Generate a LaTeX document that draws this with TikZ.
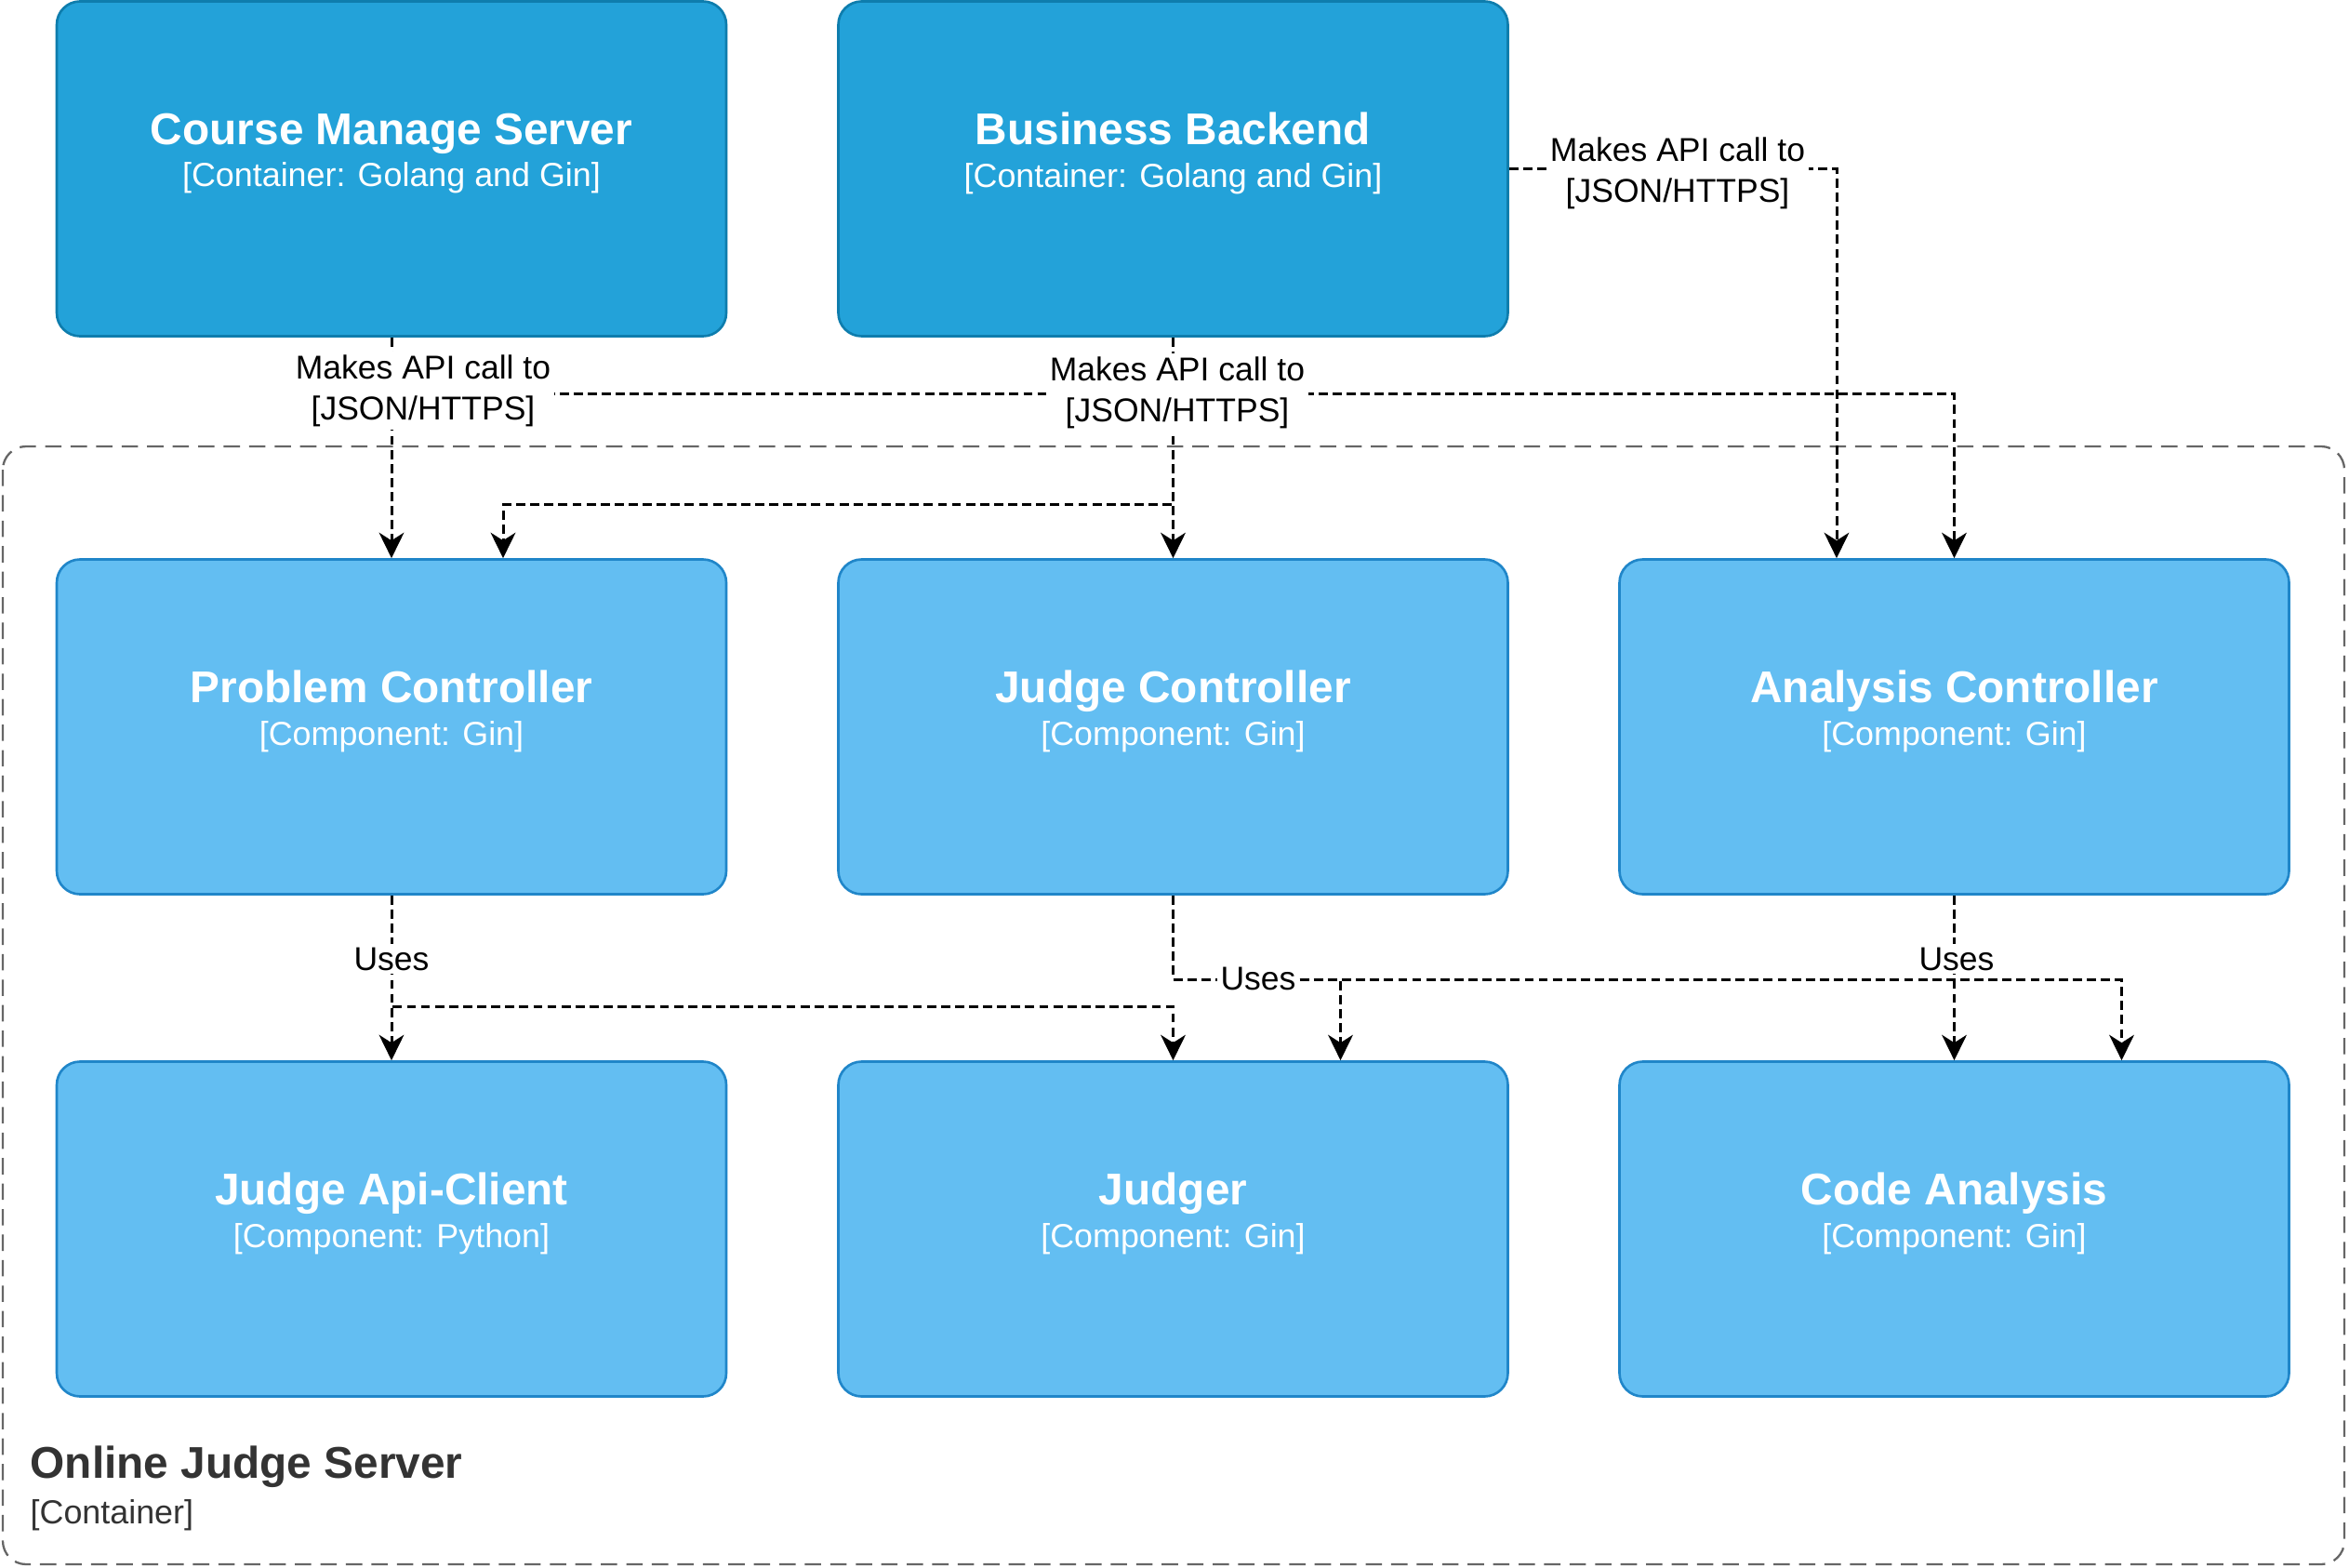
\documentclass[tikz,border=0pt]{standalone}
\usepackage{fontspec}
\setmainfont{Liberation Sans}
\usetikzlibrary{arrows.meta}

\definecolor{contfill}{HTML}{23A2D9}
\definecolor{contline}{HTML}{0E7DAD}
\definecolor{compfill}{HTML}{63BEF2}
\definecolor{compline}{HTML}{2086C9}
\definecolor{bndline}{HTML}{666666}
\definecolor{bndtext}{HTML}{333333}

\newcommand{\boxtitle}[1]{{\fontsize{13.6pt}{13pt}\selectfont\bfseries #1}}

\begin{document}
\begin{tikzpicture}[>={Stealth[length=7.8pt,width=7.6pt,inset=2.4pt]},
    box/.style={rectangle, rounded corners=0.25cm, minimum width=7.2cm, minimum height=3.6cm, line width=0.75pt, inner sep=0pt},
    cont/.style={box, fill=contfill, draw=contline},
    comp/.style={box, fill=compfill, draw=compline},
    txt/.style={text=white, align=center, inner sep=0pt, font=\fontsize{10.2pt}{13pt}\selectfont},
    flow/.style={->, line width=0.85pt, dash pattern=on 2.8pt off 1.5pt},
    elabel/.style={fill=white, inner sep=1pt, align=center, font=\fontsize{10.1pt}{12.5pt}\selectfont}]
    \useasboundingbox (0,0) rectangle (25.26,-16.86);

    % boundary
    \draw[bndline, line width=0.65pt, dash pattern=on 5pt off 2.8pt, rounded corners=0.25cm] (0.03,-4.80) rectangle (25.21,-16.82);
    \node[anchor=west, inner sep=0pt, text=bndtext, font=\fontsize{13.6pt}{14pt}\selectfont\bfseries] (ojs) at (0.32,-15.77) {Online Judge Server};
    \node[anchor=west, inner sep=0pt, text=bndtext, font=\fontsize{10.2pt}{12pt}\selectfont] (ojs-t) at (0.32,-16.29) {[Container]};

    % containers
    \node[cont] (cms) at (4.21,-1.815) {};
    \node[cont] (bb) at (12.615,-1.815) {};
    \node[txt] (cms-l) at ([yshift=0.165cm]cms.center) {\boxtitle{Course Manage Server}\\{[Container: Golang and Gin]}};
    \node[txt] (bb-l) at ([yshift=0.165cm]bb.center) {\boxtitle{Business Backend}\\{[Container: Golang and Gin]}};

    % components
    \node[comp] (pc) at (4.21,-7.815) {};
    \node[comp] (jc) at (12.615,-7.815) {};
    \node[comp] (ac) at (21.015,-7.815) {};
    \node[comp] (jac) at (4.21,-13.215) {};
    \node[comp] (jd) at (12.615,-13.215) {};
    \node[comp] (ca) at (21.015,-13.215) {};
    \node[txt] (pc-l) at ([yshift=0.165cm]pc.center) {\boxtitle{Problem Controller}\\{[Component: Gin]}};
    \node[txt] (jc-l) at ([yshift=0.165cm]jc.center) {\boxtitle{Judge Controller}\\{[Component: Gin]}};
    \node[txt] (ac-l) at ([yshift=0.165cm]ac.center) {\boxtitle{Analysis Controller}\\{[Component: Gin]}};
    \node[txt] (jac-l) at ([yshift=0.165cm]jac.center) {\boxtitle{Judge Api-Client}\\{[Component: Python]}};
    \node[txt] (jd-l) at ([yshift=0.165cm]jd.center) {\boxtitle{Judger}\\{[Component: Gin]}};
    \node[txt] (ca-l) at ([yshift=0.165cm]ca.center) {\boxtitle{Code Analysis}\\{[Component: Gin]}};

    % API calls
    \draw[flow] (cms) -- (pc);
    \draw[flow] (cms.south) -- ++(0,-0.61) -| (ac.north);
    \draw[flow] (bb) -- (jc);
    \draw[flow] (bb.south) -- ++(0,-1.80) -| ([xshift=1.2cm]pc.north);
    \draw[flow] (bb.east) -| ([xshift=-1.265cm]ac.north);

    % uses
    \draw[flow] (pc) -- (jac);
    \draw[flow] (pc.south) -- ++(0,-1.195) -| (jd.north);
    \draw[flow] (jc.south) -- ++(0,-0.905) -| ([xshift=1.8cm]jd.north);
    \draw[flow] (jc.south) -- ++(0,-0.905) -| ([xshift=1.8cm]ca.north);
    \draw[flow] (ac) -- (ca);

    % labels
    \node[elabel] (l-cms) at (4.55,-4.20) {Makes API call to\\{[JSON/HTTPS]}};
    \node[elabel] (l-bb) at (12.66,-4.22) {Makes API call to\\{[JSON/HTTPS]}};
    \node[elabel] (l-bbac) at (18.04,-1.86) {Makes API call to\\{[JSON/HTTPS]}};
    \node[elabel] (u-pc) at (4.21,-10.31) {Uses};
    \node[elabel] (u-jc) at (13.53,-10.52) {Uses};
    \node[elabel] (u-ac) at (21.04,-10.31) {Uses};
\end{tikzpicture}
\end{document}
